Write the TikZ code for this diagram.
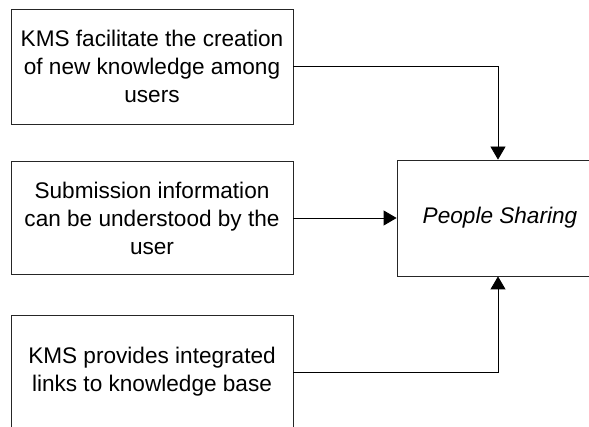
\documentclass[tikz,border=0pt]{standalone}
\usepackage{fontspec}
\setmainfont{Liberation Sans}
\usetikzlibrary{arrows.meta}
\tikzset{
    factor/.style={draw=black!85, line width=0.8pt, minimum width=282pt, align=center,
        font=\fontsize{22.6}{28}\selectfont, inner sep=0pt},
    outcome/.style={draw=black!85, line width=0.8pt, minimum width=206pt, minimum height=116pt,
        font=\fontsize{22.6}{28}\selectfont\itshape, inner sep=0pt},
    link/.style={line width=0.8pt, -{Triangle[length=13pt,width=15pt]}}
}
\begin{document}
\begin{tikzpicture}[x=1pt,y=-1pt]
    \useasboundingbox (0,0) rectangle (589,427);
    \fill [white] (0,0) rectangle (589,427);
    \clip (0,0) rectangle (589,427);
    \node [factor, minimum height=115pt] (create) at (152,66.5) {KMS facilitate the creation\\of new knowledge among\\users};
    \node [factor, minimum height=113pt] (submit) at (152,218) {Submission information\\can be understood by the\\user};
    \node [factor, minimum height=114pt] (links) at (152,372) {KMS provides integrated\\links to knowledge base};
    \node [outcome] (people) at (500,218) {People Sharing};
    \draw [link] (create.east) -| ([xshift=-2pt]people.north);
    \draw [link] (submit.east) -- (people.west);
    \draw [link] (links.east) -| ([xshift=-2pt]people.south);
\end{tikzpicture}
\end{document}
